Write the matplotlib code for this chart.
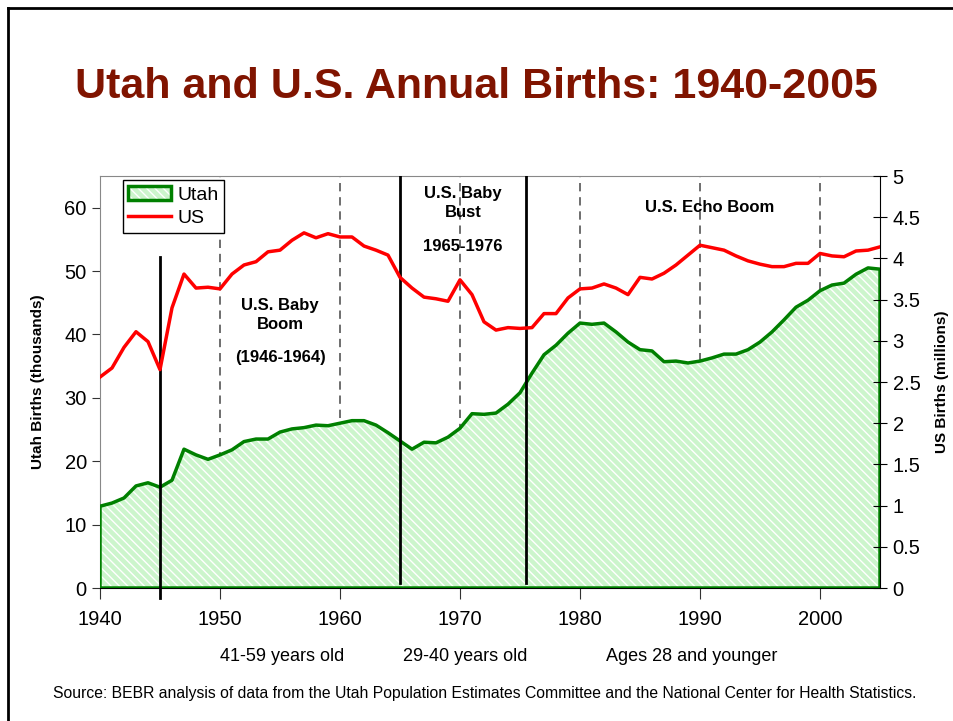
import numpy as np
import matplotlib
matplotlib.use("Agg")
import matplotlib.pyplot as plt
from matplotlib.patches import Patch
from matplotlib.lines import Line2D
from matplotlib.legend_handler import HandlerTuple

plt.rcParams['font.family'] = ['Liberation Sans', 'DejaVu Sans']

# data
years = list(range(1940, 2006))
utah = [12.9, 13.4, 14.2, 16.1, 16.6, 15.9, 17.0, 21.9, 21.0, 20.3,
        21.0, 21.8, 23.1, 23.5, 23.5, 24.6, 25.1, 25.3, 25.7, 25.6,
        26.0, 26.4, 26.4, 25.7, 24.5, 23.2, 21.9, 23.0, 22.9, 23.8,
        25.2, 27.5, 27.4, 27.6, 29.0, 30.8, 33.9, 36.8, 38.3, 40.2,
        41.8, 41.6, 41.8, 40.4, 38.8, 37.6, 37.4, 35.7, 35.8, 35.5,
        35.8, 36.3, 36.9, 36.9, 37.6, 38.8, 40.4, 42.3, 44.3, 45.4,
        46.9, 47.8, 48.1, 49.5, 50.5, 50.3]
us = [2.56, 2.67, 2.92, 3.11, 2.99, 2.65, 3.40, 3.81, 3.64, 3.65,
      3.63, 3.81, 3.92, 3.96, 4.08, 4.10, 4.22, 4.31, 4.25, 4.30,
      4.26, 4.26, 4.15, 4.10, 4.04, 3.77, 3.64, 3.53, 3.51, 3.48,
      3.74, 3.56, 3.23, 3.13, 3.16, 3.15, 3.16, 3.33, 3.33, 3.52,
      3.63, 3.64, 3.69, 3.64, 3.56, 3.77, 3.75, 3.82, 3.92, 4.04,
      4.16, 4.13, 4.10, 4.03, 3.97, 3.93, 3.90, 3.90, 3.94, 3.94,
      4.06, 4.03, 4.02, 4.09, 4.10, 4.14]

era_bounds = [1945, 1965, 1975.5]
x_ticks = [1940, 1950, 1960, 1970, 1980, 1990, 2000]
age_labels = ["41-59 years old", "29-40 years old", "Ages 28 and younger"]

green = '#008000'
light = '#ccf5cc'
red = '#ff0000'

fig = plt.figure(figsize=(9.54, 7.21), dpi=100)
ax = fig.add_axes([100/954, 1-588/721, 780/954, 412/721])
ax2 = ax.twinx()

# hatched area for Utah
ax.fill_between(years, utah, 0, facecolor=light, edgecolor='white',
                hatch='\\\\\\\\', linewidth=0, zorder=2)
ax.fill_between(years, utah, 0, facecolor='none', edgecolor=green,
                linewidth=2.5, zorder=3)

ax.set_xlim(1940, 2005)
ax.set_ylim(0, 65)
ax.set_xticks(x_ticks)
ax.set_yticks(range(0, 61, 10))
ax.grid(axis='x', linestyle=(0, (5, 3.5)), color='#555555', lw=1.2, zorder=1)
ax.tick_params(axis='both', labelsize=14.5, length=6, color='#333333')
ax.tick_params(axis='x', length=8, pad=8)
ax.set_axisbelow(True)

ax.set_ylabel("Utah Births (thousands)", fontsize=11, fontweight='bold')
ax.yaxis.set_label_coords(-0.07, 0.5)

for s in ['top', 'left']:
    ax.spines[s].set_color('#888888')
ax.spines['right'].set_visible(False)

# US line on right axis
ax2.plot(years, us, color=red, lw=2.5, zorder=4)
ax2.set_ylim(0, 5)
ax2.set_yticks(np.arange(0, 5.01, 0.5))
ax2.set_yticklabels(['0', '0.5', '1', '1.5', '2', '2.5', '3', '3.5', '4', '4.5', '5'])
ax2.tick_params(axis='y', labelsize=14.5, direction='inout', length=10, pad=4)
ax2.spines['right'].set_color('black')
ax2.spines['top'].set_visible(False)
ax2.spines['left'].set_visible(False)
ax2.spines['bottom'].set_visible(False)
ax2.set_ylabel("US Births (millions)", fontsize=11, fontweight='bold')
ax2.yaxis.set_label_coords(1.07, 0.5)

# era boundaries
ax.axvline(era_bounds[0], ymin=-0.024, ymax=0.803, color='black', lw=2, clip_on=False, zorder=5)
ax.axvline(era_bounds[1], ymin=0.012, ymax=1, color='black', lw=2, zorder=5)
ax.axvline(era_bounds[2], ymin=0.012, ymax=1, color='black', lw=2, zorder=5)

# annotations
ax2.text(1955, 3.31, "U.S. Baby\nBoom", ha='center', va='center', fontsize=12,
         fontweight='bold', linespacing=1.3, zorder=6)
ax2.text(1955, 2.80, "(1946-1964)", ha='center', va='center', fontsize=12,
         fontweight='bold', zorder=6)
ax2.text(1970.25, 4.67, "U.S. Baby\nBust", ha='center', va='center', fontsize=12,
         fontweight='bold', linespacing=1.3, zorder=6)
ax2.text(1970.25, 4.14, "1965-1976", ha='center', va='center', fontsize=12,
         fontweight='bold', zorder=6)
ax2.text(1990.8, 4.62, "U.S. Echo Boom", ha='center', va='center', fontsize=12,
         fontweight='bold', zorder=6)

# legend
p_fill = Patch(facecolor=light, edgecolor='white', hatch='\\\\\\\\', lw=0)
p_edge = Patch(facecolor='none', edgecolor=green, lw=2.5)
l_us = Line2D([], [], color=red, lw=2.5)
leg = ax2.legend([(p_fill, p_edge), l_us], ["Utah", "US"],
                 handler_map={tuple: HandlerTuple(ndivide=1, pad=0)},
                 loc='upper left', bbox_to_anchor=(0.029, 0.99), borderaxespad=0,
                 fontsize=14, fancybox=False, edgecolor='black', framealpha=1,
                 handlelength=2.2, handletextpad=0.3, borderpad=0.3, labelspacing=0.3)
leg.get_frame().set_linewidth(1)

# title and footer texts
fig.text(0.499, 0.88, "Utah and U.S. Annual Births: 1940-2005", ha='center', va='center',
         fontsize=31, fontweight='bold', color='#801400')
fig.text(0.2956, 0.0888, age_labels[0], ha='center', va='center', fontsize=13)
fig.text(0.4874, 0.0888, age_labels[1], ha='center', va='center', fontsize=13)
fig.text(0.7254, 0.0888, age_labels[2], ha='center', va='center', fontsize=13)
fig.text(0.508, 0.0388, "Source: BEBR analysis of data from the Utah Population Estimates "
         "Committee and the National Center for Health Statistics.",
         ha='center', va='center', fontsize=11.3)

# slide border (top and left)
fig.add_artist(Line2D([8/954, 1], [1-8/721, 1-8/721], color='black', lw=2))
fig.add_artist(Line2D([8/954, 8/954], [0, 1-8/721], color='black', lw=2))

fig.savefig("out.png", dpi=100)
